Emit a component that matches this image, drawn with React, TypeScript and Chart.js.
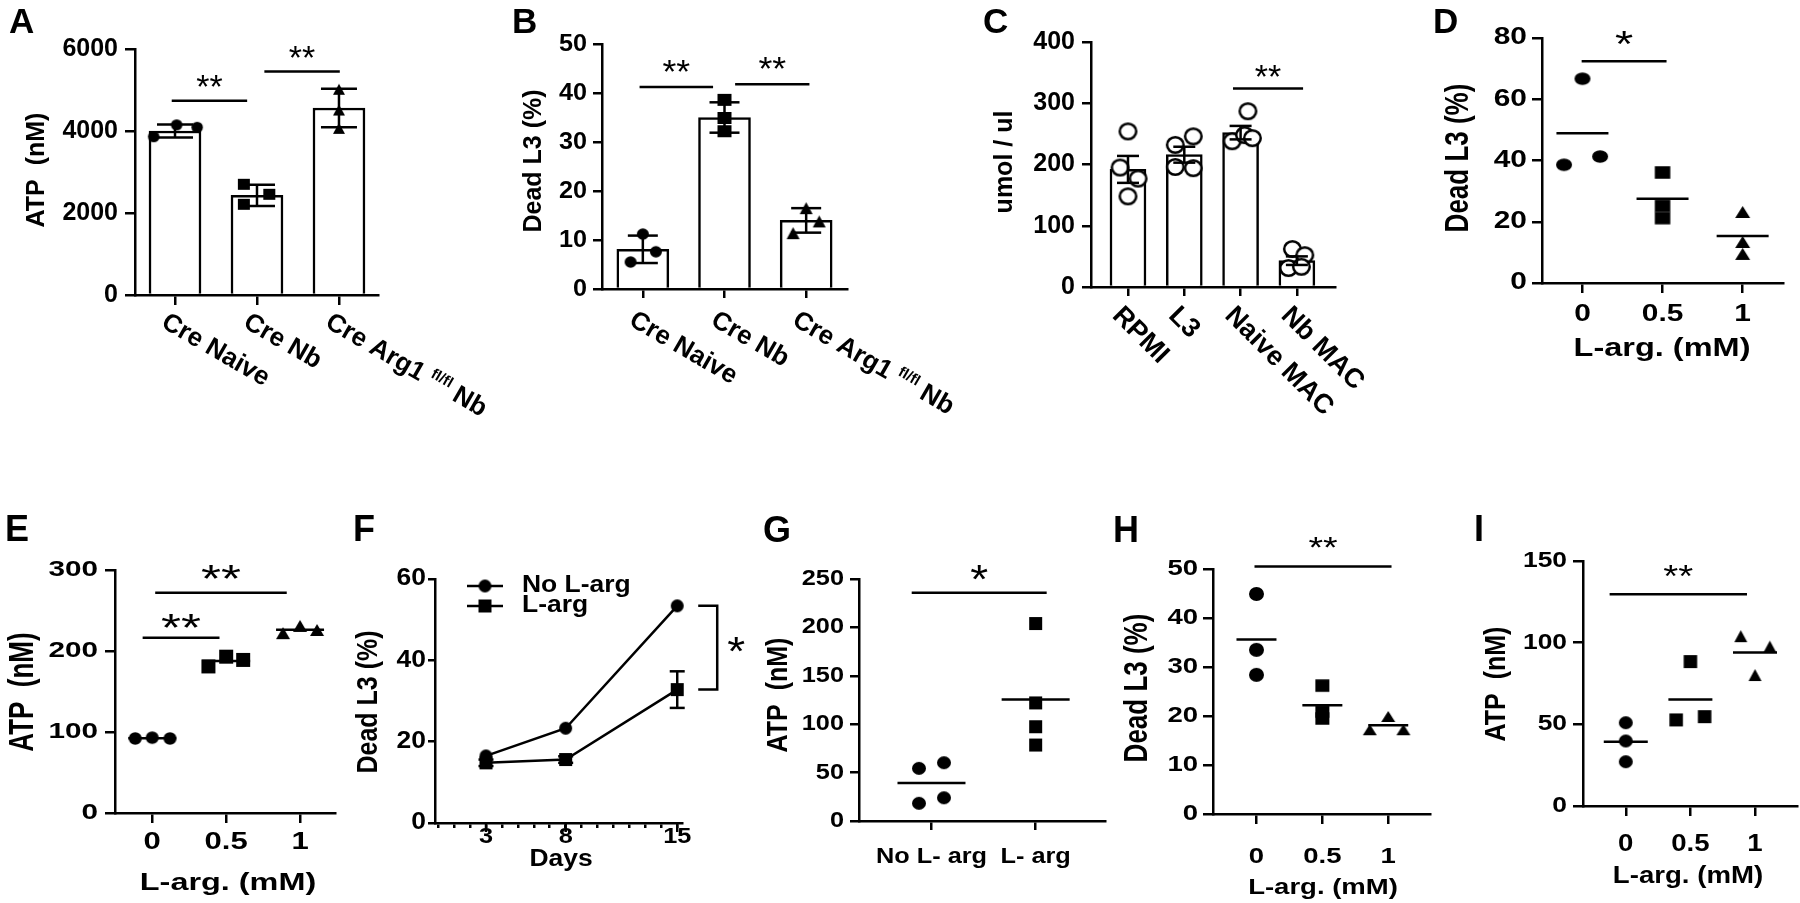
import React, { useEffect, useRef } from "react";
import { Chart, registerables } from "chart.js";

Chart.register(...registerables);

const FONT = '"Liberation Sans", Arial, Helvetica, sans-serif';

/* ================= data ================= */
// A  ATP (nM), bars = mean ± SD
const groupsAB = ["Cre Naive", "Cre Nb", "Cre Arg1 ^fl/fl^ Nb"];
const ticksA = [0, 2000, 4000, 6000];
const meanA = [4000, 2430, 4560];
const errA = [160, 260, 470];
const ptsA = [[3860, 4150, 4090], [2700, 2456, 2212], [5017, 4512, 4065]];
const jitA = [[-0.26, 0.02, 0.27], [-0.16, 0.15, -0.16], [0, 0, 0]];
const sigA = [{ a: -0.04, b: 0.88, v: 4740, t: "**" }, { a: 1.09, b: 2.01, v: 5450, t: "**" }];

// B  Dead L3 (%)
const ticksB = [0, 10, 20, 30, 40, 50];
const meanB = [8.1, 35, 14];
const errB = [2.8, 3.1, 2.5];
const ptsB = [[11.2, 7.6, 5.5], [38.6, 34.9, 32.2], [16.5, 13.8, 11.4]];
const jitB = [[0, 0.16, -0.15], [0, 0, 0], [0, 0.16, -0.16]];
const sigB = [{ a: -0.04, b: 0.86, v: 41.2, t: "**" }, { a: 1.13, b: 2.04, v: 41.8, t: "**" }];

// C  umol / ul, bars = mean ± SEM
const groupsC = ["RPMI", "L3", "Naive MAC", "Nb MAC"];
const ticksC = [0, 100, 200, 300, 400];
const meanC = [192, 216, 252, 43];
const errC = [22, 13, 11, 7];
const ptsC = [[254, 195, 177, 148], [232, 246, 196, 194], [287, 238, 248, 243], [62, 52, 31, 33]];
const jitC = [[0, -0.14, 0.18, 0], [-0.16, 0.16, -0.16, 0.16], [0.13, -0.15, 0.07, 0.21], [-0.08, 0.14, -0.15, 0.08]];
const sigC = [{ a: 1.865, b: 3.11, v: 324, t: "**" }];

// shared dose labels
const doses = ["0", "0.5", "1"];

// D  Dead L3 (%)
const ticksD = [0, 20, 40, 60, 80];
const ptsD = [[66.7, 38.6, 41.3], [36.1, 25.2, 21.2], [23.2, 13.4, 9.5]];
const jitD = [[0, -0.23, 0.22], [0, 0, 0], [0, 0, 0]];
const sigD = [{ a: -0.01, b: 1.05, v: 72.4, t: "*" }];

// E  ATP (nM)
const ticksE = [0, 100, 200, 300];
const ptsE = [[92, 93, 92], [181, 193, 189], [222, 231, 226]];
const jitE = [[-0.23, 0, 0.24], [-0.24, 0, 0.23], [-0.23, 0, 0.23]];
const sigE = [{ a: 0.04, b: 1.82, v: 272, t: "**" }, { a: -0.13, b: 0.91, v: 216.5, t: "**" }];

// F  Dead L3 (%) over days
const seriesF = ["No L-arg", "L-arg"];
const daysF = [3, 8, 15];
const dayTicksF = [0, 1, 2, 3, 4, 5, 6, 7, 8, 9, 10, 11, 12, 13, 14, 15];
const ticksF = [0, 20, 40, 60];
const noLargF = [16.5, 23.3, 53.4];
const largF = [14.8, 15.6, 32.8];
const largErrF = [0.8, 0.8, 4.5];

// G  ATP (nM)
const groupsG = ["No L- arg", "L- arg"];
const ticksG = [0, 50, 100, 150, 200, 250];
const ptsG = [[54.4, 60.2, 18.3, 24], [204, 122, 97.4, 78.5]];
const jitG = [[-0.12, 0.12, -0.12, 0.12], [0, 0, 0, 0]];
const sigG = [{ a: -0.19, b: 1.106, v: 235.8, t: "*" }];

// H  Dead L3 (%)
const ticksH = [0, 10, 20, 30, 40, 50];
const ptsH = [[44.9, 33.5, 28.4], [26.2, 20.9, 19.5], [17.2, 19.9, 17.2]];
const jitH = [[0, 0, 0], [0, 0, 0], [-0.28, 0, 0.23]];
const sigH = [{ a: -0.03, b: 2.05, v: 50.5, t: "**" }];

// I  ATP (nM)
const ticksI = [0, 50, 100, 150];
const ptsI = [[51, 39.8, 27.1], [88.4, 52.7, 54.7], [104, 97.6, 80.2]];
const jitI = [[0, 0, 0], [0, -0.22, 0.22], [-0.22, 0.23, 0]];
const sigI = [{ a: -0.25, b: 1.876, v: 129.6, t: "**" }];

/* ================= layout (page pixels) ================= */
const BOXES: Record<string, number[]> = {
  A: [0, 0, 505, 440],
  B: [495, 0, 480, 440],
  C: [975, 0, 445, 440],
  D: [1420, 0, 380, 440],
  E: [0, 495, 345, 408],
  F: [345, 495, 400, 408],
  G: [745, 495, 365, 408],
  H: [1105, 495, 340, 408],
  I: [1445, 495, 355, 408],
};

/* ================= helpers ================= */
function mk(shape: string, w: number, h: number, open = false) {
  const pad = 3;
  const c = document.createElement("canvas");
  c.width = Math.ceil(w + pad * 2);
  c.height = Math.ceil(h + pad * 2);
  const g = c.getContext("2d")!;
  const cx = c.width / 2;
  const cy = c.height / 2;
  g.beginPath();
  if (shape === "circle") {
    const lw = open ? 2.5 : 0;
    g.ellipse(cx, cy, (w - lw) / 2, (h - lw) / 2, 0, 0, Math.PI * 2);
  } else if (shape === "square") {
    g.rect(cx - w / 2, cy - h / 2, w, h);
  } else {
    g.moveTo(cx, cy - h / 2);
    g.lineTo(cx + w / 2, cy + h / 2);
    g.lineTo(cx - w / 2, cy + h / 2);
    g.closePath();
  }
  if (open) {
    g.fillStyle = "#fff";
    g.fill();
    g.lineWidth = 2.5;
    g.strokeStyle = "#000";
    g.stroke();
  } else {
    g.fillStyle = "#000";
    g.fill();
  }
  return c;
}

function text(ctx: any, s: string, x: number, y: number, size: number, o: any = {}) {
  ctx.save();
  ctx.translate(x, y);
  if (o.sx && o.sx !== 1) ctx.scale(o.sx, 1);
  if (o.rot) ctx.rotate(o.rot);
  ctx.font = `${o.bold === false ? "normal" : "bold"} ${size}px ${FONT}`;
  ctx.textAlign = o.align || "center";
  ctx.textBaseline = o.base || "middle";
  ctx.fillStyle = "#000";
  ctx.fillText(s, 0, 0);
  ctx.restore();
}

function drawRich(ctx: any, label: string, x: number, y: number, angle: number, size: number) {
  const parts = label.split("^");
  ctx.save();
  ctx.translate(x, y);
  ctx.rotate(angle);
  ctx.textBaseline = "top";
  ctx.textAlign = "left";
  ctx.fillStyle = "#000";
  let cx = 0;
  parts.forEach((p, i) => {
    if (!p) return;
    const sup = i % 2 === 1;
    ctx.font = `bold ${sup ? Math.round(size * 0.58) : size}px ${FONT}`;
    ctx.fillText(p, cx, sup ? -1 : 0);
    cx += ctx.measureText(p).width;
  });
  ctx.restore();
}

function seg(ctx: any, x1: number, y1: number, x2: number, y2: number) {
  ctx.beginPath();
  ctx.moveTo(x1, y1);
  ctx.lineTo(x2, y2);
  ctx.stroke();
}

function star(ctx: any, t: string, cx: number, cy: number, size: number, sx: number) {
  text(ctx, t, cx, cy + 0.573 * size, size, { bold: false, base: "alphabetic", sx });
}

const mean = (a: number[]) => a.reduce((p, c) => p + c, 0) / a.length;

function barDs(means: number[], thick: number) {
  return {
    type: "bar",
    data: means.map((m, i) => ({ x: i, y: m })),
    barThickness: thick,
    backgroundColor: "#fff",
    borderColor: "#000",
    borderWidth: 2.5,
    order: 5,
    clip: false,
  };
}

function ptDs(vals: number[], jit: number[], g: number, img: any) {
  return {
    type: "scatter",
    data: vals.map((v, k) => ({ x: g + jit[k], y: v })),
    pointStyle: img,
    pointRadius: 5,
    pointHoverRadius: 5,
    order: 1,
    clip: false,
  };
}

function overlay(s: any) {
  return {
    id: "overlay",
    afterDatasetsDraw(chart: any) {
      const ctx = chart.ctx;
      const xs = chart.scales.x;
      const ys = chart.scales.y;
      ctx.save();
      ctx.strokeStyle = "#000";
      ctx.lineWidth = 2.5;
      if (s.err) {
        s.err.m.forEach((m: number, i: number) => {
          const x = xs.getPixelForValue(s.err.x[i]);
          const yt = ys.getPixelForValue(m + s.err.e[i]);
          const yb = ys.getPixelForValue(m - s.err.e[i]);
          seg(ctx, x, yt, x, yb);
          seg(ctx, x - s.err.cap, yt, x + s.err.cap, yt);
          seg(ctx, x - s.err.cap, yb, x + s.err.cap, yb);
        });
      }
      if (s.means) {
        s.means.pts.forEach((p: number[], g: number) => {
          const x = xs.getPixelForValue(g);
          const y = ys.getPixelForValue(mean(p));
          seg(ctx, x - s.means.half, y, x + s.means.half, y);
        });
      }
      ctx.restore();
    },
    afterDraw(chart: any) {
      const ctx = chart.ctx;
      const xs = chart.scales.x;
      const ys = chart.scales.y;
      const ca = chart.chartArea;
      const [bl, bt] = s.box;
      const X = (v: number) => v - bl;
      const Y = (v: number) => v - bt;
      ctx.save();
      ctx.strokeStyle = "#000";
      ctx.lineWidth = 2.5;
      text(ctx, s.letter, X(s.letterAt[0]), Y(s.letterAt[1]), s.letterSize, { align: "left", base: "alphabetic" });
      s.yTicks.forEach((v: number) =>
        text(ctx, String(v), ca.left - s.tickGap, ys.getPixelForValue(v), s.tickSize, { align: "right", sx: s.sx })
      );
      if (s.rot) {
        s.xLabels.forEach((lab: string, i: number) =>
          drawRich(ctx, lab, xs.getPixelForValue(s.xLabelAt[i]) + s.rot.dx, Y(s.rot.y), (s.rot.angle * Math.PI) / 180, s.rot.size)
        );
      } else {
        s.xLabels.forEach((lab: string, i: number) =>
          text(ctx, lab, xs.getPixelForValue(s.xLabelAt[i]), Y(s.xLabelY), s.xLabelSize, { sx: s.sx })
        );
      }
      text(ctx, s.yTitle, X(s.yTitleAt[0]), Y(s.yTitleAt[1]), s.yTitleSize, { rot: -Math.PI / 2, sx: s.sx });
      if (s.xTitle) text(ctx, s.xTitle, X(s.xTitleAt[0]), Y(s.xTitleAt[1]), s.xTitleSize, { sx: s.sx });
      s.sigs.forEach((g: any, k: number) => {
        const y = ys.getPixelForValue(g.v);
        const xa = xs.getPixelForValue(g.a);
        const xb = xs.getPixelForValue(g.b);
        seg(ctx, xa, y, xb, y);
        star(ctx, g.t, (xa + xb) / 2, y - s.sigGap[k], s.starSize, s.sx);
      });
      if (s.extra) s.extra(ctx, chart, s, X, Y);
      ctx.restore();
    },
  };
}

function makeConfig(s: any): any {
  const [bl, bt, bw, bh] = s.box;
  const [x0, y0, x1, y1] = s.area;
  const grid = (tl: number) => ({
    drawOnChartArea: false,
    drawTicks: true,
    tickLength: tl,
    color: "#000",
    lineWidth: 2.5,
    tickWidth: 2.5,
    offset: false,
  });
  const border = { display: true, color: "#000", width: 2.5 };
  return {
    type: "scatter",
    data: { datasets: s.datasets },
    options: {
      responsive: false,
      animation: false,
      devicePixelRatio: 1,
      events: [],
      layout: {
        autoPadding: false,
        padding: { left: x0 - bl - s.ytl, top: y0 - bt, right: bl + bw - x1, bottom: bt + bh - y1 - s.xtl },
      },
      plugins: { legend: { display: false }, tooltip: { enabled: false } },
      scales: {
        x: {
          type: "linear",
          min: s.xr[0],
          max: s.xr[1],
          offset: false,
          grid: grid(s.xtl),
          border,
          ticks: { display: false },
          afterBuildTicks: (sc: any) => {
            sc.ticks = s.xTicks.map((v: number) => ({ value: v }));
          },
          afterFit: (sc: any) => {
            sc.height = s.xtl;
          },
        },
        y: {
          type: "linear",
          min: s.yr[0],
          max: s.yr[1],
          offset: false,
          grid: grid(s.ytl),
          border,
          ticks: { display: false },
          afterBuildTicks: (sc: any) => {
            sc.ticks = s.yTicks.map((v: number) => ({ value: v }));
          },
          afterFit: (sc: any) => {
            sc.width = s.ytl;
          },
        },
      },
    },
    plugins: [overlay(s)],
  };
}

/* ================= panel specs ================= */
const idx = (a: any[]) => a.map((_, i) => i);

const BUILD: Record<string, () => any> = {
  A: () => {
    const imgs = [mk("circle", 11.5, 11), mk("square", 12, 11), mk("triangle", 12, 11)];
    return {
      box: BOXES.A, area: [135, 49, 378, 295], xr: [-0.488, 2.476], yr: [0, 6000],
      xTicks: idx(groupsAB), yTicks: ticksA, xtl: 10, ytl: 10, sx: 1, tickSize: 25, tickGap: 17,
      letter: "A", letterAt: [9, 33], letterSize: 35,
      yTitle: "ATP  (nM)", yTitleAt: [37, 170], yTitleSize: 25,
      xLabels: groupsAB, xLabelAt: idx(groupsAB), rot: { angle: 30, dx: -5, y: 309, size: 26 },
      datasets: [barDs(meanA, 52), ...ptsA.map((p, g) => ptDs(p, jitA[g], g, imgs[g]))],
      err: { x: idx(groupsAB), m: meanA, e: errA, cap: 18 },
      sigs: sigA, sigGap: [22, 22], starSize: 34,
    };
  },
  B: () => {
    const imgs = [mk("circle", 12, 11.5), mk("square", 14, 12), mk("triangle", 13, 12)];
    return {
      box: BOXES.B, area: [602, 44, 847, 289], xr: [-0.5, 2.5], yr: [0, 50],
      xTicks: idx(groupsAB), yTicks: ticksB, xtl: 9, ytl: 9, sx: 1.05, tickSize: 24, tickGap: 15,
      letter: "B", letterAt: [512, 33], letterSize: 35,
      yTitle: "Dead L3 (%)", yTitleAt: [534, 161], yTitleSize: 25,
      xLabels: groupsAB, xLabelAt: idx(groupsAB), rot: { angle: 30, dx: -5, y: 307, size: 26 },
      datasets: [barDs(meanB, 52), ...ptsB.map((p, g) => ptDs(p, jitB[g], g, imgs[g]))],
      err: { x: idx(groupsAB), m: meanB, e: errB, cap: 15 },
      sigs: sigB, sigGap: [24, 24], starSize: 34,
    };
  },
  C: () => {
    const img = mk("circle", 19, 18, true);
    return {
      box: BOXES.C, area: [1091, 42, 1335, 287], xr: [-0.657, 3.677], yr: [0, 400],
      xTicks: idx(groupsC), yTicks: ticksC, xtl: 9, ytl: 9, sx: 1, tickSize: 25, tickGap: 16,
      letter: "C", letterAt: [983, 33], letterSize: 35,
      yTitle: "umol / ul", yTitleAt: [1005, 162], yTitleSize: 25,
      xLabels: groupsC, xLabelAt: idx(groupsC), rot: { angle: 45, dx: -2, y: 302, size: 27 },
      datasets: [barDs(meanC, 36), ...ptsC.map((p, g) => ptDs(p, jitC[g], g, img))],
      err: { x: idx(groupsC), m: meanC, e: errC, cap: 11 },
      sigs: sigC, sigGap: [20], starSize: 34,
    };
  },
  D: () => {
    const imgs = [mk("circle", 16, 12.5), mk("square", 15.5, 12.5), mk("triangle", 15, 12)];
    return {
      box: BOXES.D, area: [1542, 38, 1783, 283], xr: [-0.505, 2.504], yr: [0, 80],
      xTicks: idx(doses), yTicks: ticksD, xtl: 10, ytl: 10, sx: 1.3, tickSize: 23, tickGap: 15,
      letter: "D", letterAt: [1433, 33], letterSize: 35,
      yTitle: "Dead L3 (%)", yTitleAt: [1459, 158], yTitleSize: 26,
      xLabels: doses, xLabelAt: idx(doses), xLabelY: 315, xLabelSize: 23,
      xTitle: "L-arg. (mM)", xTitleAt: [1662, 349], xTitleSize: 25,
      datasets: ptsD.map((p, g) => ptDs(p, jitD[g], g, imgs[g])),
      means: { pts: ptsD, half: 26 },
      sigs: sigD, sigGap: [25], starSize: 36,
    };
  },
  E: () => {
    const imgs = [mk("circle", 13, 12.5), mk("square", 14, 14), mk("triangle", 14, 12)];
    return {
      box: BOXES.E, area: [115, 570, 335, 813], xr: [-0.504, 2.473], yr: [0, 300],
      xTicks: idx(doses), yTicks: ticksE, xtl: 10, ytl: 10, sx: 1.35, tickSize: 22, tickGap: 17,
      letter: "E", letterAt: [5, 541], letterSize: 36,
      yTitle: "ATP  (nM)", yTitleAt: [23, 692], yTitleSize: 26,
      xLabels: doses, xLabelAt: idx(doses), xLabelY: 843, xLabelSize: 23,
      xTitle: "L-arg. (mM)", xTitleAt: [228, 883], xTitleSize: 24,
      datasets: ptsE.map((p, g) => ptDs(p, jitE[g], g, imgs[g])),
      means: { pts: ptsE, half: 24 },
      sigs: sigE, sigGap: [22, 18], starSize: 38,
    };
  },
  F: () => {
    const circ = mk("circle", 13, 13);
    const sq = mk("square", 13, 13);
    const lineDs = (vals: number[], img: any) => ({
      type: "line",
      data: vals.map((v, i) => ({ x: daysF[i], y: v })),
      borderColor: "#000",
      borderWidth: 2.5,
      pointStyle: img,
      pointRadius: 5,
      pointHoverRadius: 5,
      tension: 0,
      fill: false,
      clip: false,
    });
    return {
      box: BOXES.F, area: [435, 579, 682, 823], xr: [-0.2, 15.3], yr: [0, 60],
      xTicks: dayTicksF, yTicks: ticksF, xtl: 5, ytl: 7, sx: 1.15, tickSize: 23, tickGap: 9,
      letter: "F", letterAt: [353, 541], letterSize: 36,
      yTitle: "Dead L3 (%)", yTitleAt: [369, 702], yTitleSize: 25,
      xLabels: daysF.map(String), xLabelAt: daysF, xLabelY: 837, xLabelSize: 22,
      xTitle: "Days", xTitleAt: [561, 860], xTitleSize: 23,
      datasets: [lineDs(noLargF, circ), lineDs(largF, sq)],
      sigs: [], sigGap: [], starSize: 40,
      extra: (ctx: any, chart: any, s: any, X: any, Y: any) => {
        const xs = chart.scales.x;
        const ys = chart.scales.y;
        const yb = chart.chartArea.bottom;
        daysF.forEach((d) => {
          const x = xs.getPixelForValue(d);
          seg(ctx, x, yb, x, yb + 9);
        });
        largF.forEach((v, i) => {
          const x = xs.getPixelForValue(daysF[i]);
          const yt = ys.getPixelForValue(v + largErrF[i]);
          const ybb = ys.getPixelForValue(v - largErrF[i]);
          seg(ctx, x, yt, x, ybb);
          seg(ctx, x - 7.5, yt, x + 7.5, yt);
          seg(ctx, x - 7.5, ybb, x + 7.5, ybb);
        });
        const last = daysF.length - 1;
        const x15 = xs.getPixelForValue(daysF[last]);
        const ya = ys.getPixelForValue(noLargF[last]);
        const yb2 = ys.getPixelForValue(largF[last]);
        ctx.beginPath();
        ctx.moveTo(x15 + 21, ya);
        ctx.lineTo(x15 + 40, ya);
        ctx.lineTo(x15 + 40, yb2);
        ctx.lineTo(x15 + 21, yb2);
        ctx.stroke();
        star(ctx, "*", x15 + 59, (ya + yb2) / 2 - 6, 40, s.sx);
        const rows = [
          { t: seriesF[0], img: circ, y: 586 },
          { t: seriesF[1], img: sq, y: 606 },
        ];
        rows.forEach((r) => {
          seg(ctx, X(467), Y(r.y), X(503), Y(r.y));
          ctx.drawImage(r.img, X(485) - r.img.width / 2, Y(r.y) - r.img.height / 2);
          text(ctx, r.t, X(522), Y(r.y), 23, { align: "left", sx: s.sx });
        });
      },
    };
  },
  G: () => {
    const imgs = [mk("circle", 14, 13), mk("square", 13, 13)];
    return {
      box: BOXES.G, area: [859, 579, 1105, 821], xr: [-0.696, 1.666], yr: [0, 250],
      xTicks: idx(groupsG), yTicks: ticksG, xtl: 9, ytl: 9, sx: 1.15, tickSize: 22, tickGap: 15,
      letter: "G", letterAt: [763, 542], letterSize: 36,
      yTitle: "ATP  (nM)", yTitleAt: [779, 695], yTitleSize: 25,
      xLabels: groupsG, xLabelAt: idx(groupsG), xLabelY: 857, xLabelSize: 22,
      datasets: ptsG.map((p, g) => ptDs(p, jitG[g], g, imgs[g])),
      means: { pts: ptsG, half: 34 },
      sigs: sigG, sigGap: [23], starSize: 40,
    };
  },
  H: () => {
    const imgs = [mk("circle", 15, 14), mk("square", 14, 12.5), mk("triangle", 14, 11)];
    return {
      box: BOXES.H, area: [1213, 569, 1430, 814], xr: [-0.66, 2.634], yr: [0, 50],
      xTicks: idx(doses), yTicks: ticksH, xtl: 10, ytl: 10, sx: 1.25, tickSize: 22, tickGap: 15,
      letter: "H", letterAt: [1113, 542], letterSize: 36,
      yTitle: "Dead L3 (%)", yTitleAt: [1138, 688], yTitleSize: 26,
      xLabels: doses, xLabelAt: idx(doses), xLabelY: 857, xLabelSize: 22,
      xTitle: "L-arg. (mM)", xTitleAt: [1323, 888], xTitleSize: 22,
      datasets: ptsH.map((p, g) => ptDs(p, jitH[g], g, imgs[g])),
      means: { pts: ptsH, half: 20 },
      sigs: sigH, sigGap: [27], starSize: 30,
    };
  },
  I: () => {
    const imgs = [mk("circle", 14, 13), mk("square", 13.5, 13), mk("triangle", 13, 12)];
    return {
      box: BOXES.I, area: [1583, 561, 1797, 806], xr: [-0.662, 2.65], yr: [0, 150],
      xTicks: idx(doses), yTicks: ticksI, xtl: 10, ytl: 10, sx: 1.2, tickSize: 22, tickGap: 16,
      letter: "I", letterAt: [1474, 541], letterSize: 36,
      yTitle: "ATP  (nM)", yTitleAt: [1497, 684], yTitleSize: 25,
      xLabels: doses, xLabelAt: idx(doses), xLabelY: 845, xLabelSize: 23,
      xTitle: "L-arg. (mM)", xTitleAt: [1688, 877], xTitleSize: 23,
      datasets: ptsI.map((p, g) => ptDs(p, jitI[g], g, imgs[g])),
      means: { pts: ptsI, half: 22 },
      sigs: sigI, sigGap: [26], starSize: 32,
    };
  },
};

function Panel({ id }: { id: string }) {
  const ref = useRef<HTMLCanvasElement>(null);
  const [l, t, w, h] = BOXES[id];
  useEffect(() => {
    if (!ref.current) return;
    const chart = new Chart(ref.current, makeConfig(BUILD[id]()));
    return () => chart.destroy();
  }, [id]);
  return (
    <canvas
      ref={ref}
      width={w}
      height={h}
      style={{ position: "absolute", left: l, top: t, width: w, height: h }}
    />
  );
}

export default function App() {
  return (
    <div style={{ position: "absolute", left: 0, top: 0, width: 1800, height: 903, background: "#fff", overflow: "hidden" }}>
      {Object.keys(BOXES).map((k) => (
        <Panel key={k} id={k} />
      ))}
    </div>
  );
}
